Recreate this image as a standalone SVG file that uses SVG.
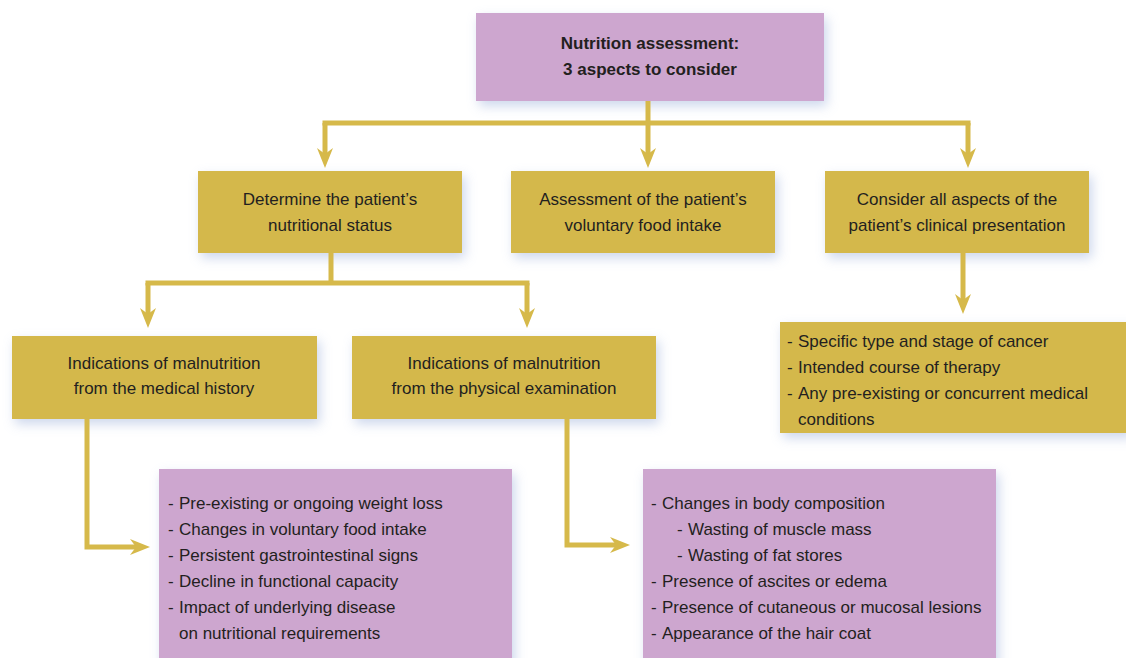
<svg xmlns="http://www.w3.org/2000/svg" width="1126" height="658" viewBox="0 0 1126 658">
  <defs>
    <filter id="sh" x="-10%" y="-20%" width="120%" height="150%">
      <feDropShadow dx="3" dy="5" stdDeviation="6" flood-color="#8fa6d6" flood-opacity="0.45"/>
    </filter>
    <marker id="ah" markerUnits="userSpaceOnUse" markerWidth="20" markerHeight="16" viewBox="0 -8 20 16" refX="8" refY="0" orient="auto">
      <path d="M0,-8 L20,0 L0,8 L6,0 Z" fill="#d6b94a"/>
    </marker>
    <style>
      .gold { fill: #d4b84b; filter: url(#sh); }
      .purple { fill: #cda6cf; filter: url(#sh); }
      text { font-family: "Liberation Sans", Arial, sans-serif; font-size: 17px; fill: #231f20; }
      .c { text-anchor: middle; }
      .b { font-weight: bold; }
      .conn path { fill: none; stroke: #d6b94a; stroke-width: 5; stroke-linejoin: miter; }
    </style>
  </defs>
  <rect width="1126" height="658" fill="#ffffff"/>

  <g id="n-top">
    <rect class="purple" x="476" y="13" width="348" height="88"/>
    <text class="c b" x="650" y="49">Nutrition assessment:</text>
    <text class="c b" x="650" y="75">3 aspects to consider</text>
  </g>

  <g id="n-status">
    <rect class="gold" x="198" y="171" width="264" height="82"/>
    <text class="c" x="330" y="205">Determine the patient’s</text>
    <text class="c" x="330" y="231">nutritional status</text>
  </g>

  <g id="n-intake">
    <rect class="gold" x="511" y="171" width="264" height="82"/>
    <text class="c" x="643" y="205">Assessment of the patient’s</text>
    <text class="c" x="643" y="231">voluntary food intake</text>
  </g>

  <g id="n-clinical">
    <rect class="gold" x="825" y="171" width="264" height="82"/>
    <text class="c" x="957" y="205">Consider all aspects of the</text>
    <text class="c" x="957" y="231">patient’s clinical presentation</text>
  </g>

  <g id="n-clinical-list">
    <rect class="gold" x="780" y="322" width="350" height="111"/>
    <text x="787" y="347">-</text><text x="798" y="347">Specific type and stage of cancer</text>
    <text x="787" y="373">-</text><text x="798" y="373">Intended course of therapy</text>
    <text x="787" y="399">-</text><text x="798" y="399">Any pre-existing or concurrent medical</text>
    <text x="798" y="425">conditions</text>
  </g>

  <g id="n-history">
    <rect class="gold" x="12" y="336" width="305" height="83"/>
    <text class="c" x="164" y="369">Indications of malnutrition</text>
    <text class="c" x="164" y="394">from the medical history</text>
  </g>

  <g id="n-physical">
    <rect class="gold" x="352" y="336" width="304" height="83"/>
    <text class="c" x="504" y="369">Indications of malnutrition</text>
    <text class="c" x="504" y="394">from the physical examination</text>
  </g>

  <g id="n-history-list">
    <rect class="purple" x="159" y="469" width="353" height="200"/>
    <text x="168" y="509">-</text><text x="179" y="509">Pre-existing or ongoing weight loss</text>
    <text x="168" y="535">-</text><text x="179" y="535">Changes in voluntary food intake</text>
    <text x="168" y="561">-</text><text x="179" y="561">Persistent gastrointestinal signs</text>
    <text x="168" y="587">-</text><text x="179" y="587">Decline in functional capacity</text>
    <text x="168" y="613">-</text><text x="179" y="613">Impact of underlying disease</text>
    <text x="179" y="639">on nutritional requirements</text>
  </g>

  <g id="n-physical-list">
    <rect class="purple" x="643" y="469" width="353" height="200"/>
    <text x="651" y="509">-</text><text x="662" y="509">Changes in body composition</text>
    <text x="677" y="535">-</text><text x="688" y="535">Wasting of muscle mass</text>
    <text x="677" y="561">-</text><text x="688" y="561">Wasting of fat stores</text>
    <text x="651" y="587">-</text><text x="662" y="587">Presence of ascites or edema</text>
    <text x="651" y="613">-</text><text x="662" y="613">Presence of cutaneous or mucosal lesions</text>
    <text x="651" y="639">-</text><text x="662" y="639">Appearance of the hair coat</text>
  </g>

  <g id="connectors" class="conn">
    <path d="M322.5,123 H970.5"/>
    <path d="M648,101 V156" marker-end="url(#ah)"/>
    <path d="M325,123 V156" marker-end="url(#ah)"/>
    <path d="M968,123 V156" marker-end="url(#ah)"/>
    <path d="M331,253 V283"/>
    <path d="M145.5,283 H529.5"/>
    <path d="M148,283 V316" marker-end="url(#ah)"/>
    <path d="M527,283 V316" marker-end="url(#ah)"/>
    <path d="M963,253 V302" marker-end="url(#ah)"/>
    <path d="M87,419 V547 H138" marker-end="url(#ah)"/>
    <path d="M567,419 V545 H618" marker-end="url(#ah)"/>
  </g>
</svg>
